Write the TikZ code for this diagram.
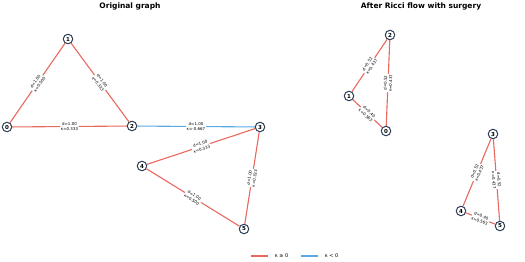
\documentclass[tikz,border=0pt]{standalone}
\usepackage{fontspec}
\setmainfont{DejaVu Sans}
\usepackage{tikz}
\usetikzlibrary{positioning}
\usepackage{xcolor}
\definecolor{PosRed}  {HTML}{E8695F}
\definecolor{NegBlue} {HTML}{5AA9E0}
\definecolor{NodeInk} {HTML}{2C3E58}
\tikzset{
  every node/.style={font=\fontsize{5}{6}\selectfont},
  % graph vertices
  vtx/.style={circle, draw=NodeInk, line width=1pt, fill=white,
              minimum size=9.5pt, inner sep=0pt, font=\fontsize{5.5}{6}\selectfont\bfseries},
  poscurv/.style={draw=PosRed, line width=1.1pt},
  negcurv/.style={draw=NegBlue, line width=1.1pt},
  elab/.style={fill=white, inner sep=0.6pt, align=center, sloped,
               font=\fontsize{4}{5.2}\selectfont},
  ttl/.style={font=\fontsize{7.5}{9}\selectfont\bfseries},
}

\begin{document}
\begin{tikzpicture}[x=1pt, y=-1pt]
\useasboundingbox (0,0) rectangle (525,262);

% titles
\node[ttl] (tOrig) at (130,6) {Original graph};
\node[ttl] (tRic)  at (421,6) {After Ricci flow with surgery};

% original graph
\node[vtx] (a0) at (7,127)   {0};
\node[vtx] (a1) at (68,39)   {1};
\node[vtx] (a2) at (132,126) {2};
\node[vtx] (a3) at (260,127) {3};
\node[vtx] (a4) at (142,166) {4};
\node[vtx] (a5) at (244,229) {5};

\draw[poscurv] (a0) -- node[elab] {d=1.00\\κ=0.500} (a1);
\draw[poscurv] (a1) -- node[elab] {d=1.00\\κ=0.333} (a2);
\draw[poscurv] (a0) -- node[elab] {d=1.00\\κ=0.333} (a2);
\draw[negcurv] (a2) -- node[elab] {d=1.00\\κ=-0.667} (a3);
\draw[poscurv] (a4) -- node[elab] {d=1.00\\κ=0.333} (a3);
\draw[poscurv] (a3) -- node[elab] {d=1.00\\κ=0.333} (a5);
\draw[poscurv] (a4) -- node[elab] {d=1.00\\κ=0.500} (a5);

% after the flow
\node[vtx] (b0) at (386,131) {0};
\node[vtx] (b1) at (349,96)  {1};
\node[vtx] (b2) at (390,35)  {2};
\node[vtx] (b3) at (493,134) {3};
\node[vtx] (b4) at (461,211) {4};
\node[vtx] (b5) at (500,226) {5};

\draw[poscurv] (b1) -- node[elab] {d=0.52\\κ=0.437} (b2);
\draw[poscurv] (b2) -- node[elab] {d=0.52\\κ=0.437} (b0);
\draw[poscurv] (b1) -- node[elab] {d=0.40\\κ=0.563} (b0);
\draw[poscurv] (b4) -- node[elab] {d=0.52\\κ=0.437} (b3);
\draw[poscurv] (b3) -- node[elab] {d=0.52\\κ=0.437} (b5);
\draw[poscurv] (b4) -- node[elab] {d=0.40\\κ=0.563} (b5);

% legend
\coordinate (lgA) at (251,256);
\coordinate (lgB) at (268,256);
\coordinate (lgC) at (301,256);
\coordinate (lgD) at (318,256);
\draw[poscurv] (lgA) -- (lgB) node[right=3pt] (lgPos) {κ ≥ 0};
\draw[negcurv] (lgC) -- (lgD) node[right=3pt] (lgNeg) {κ < 0};

\end{tikzpicture}
\end{document}
